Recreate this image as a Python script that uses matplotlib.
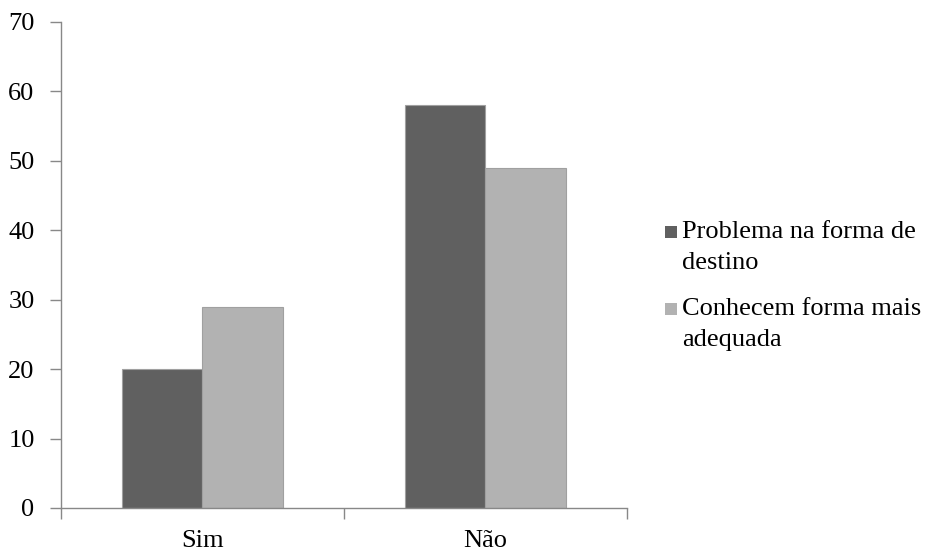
import numpy as np
import matplotlib.pyplot as plt
from matplotlib.patches import Rectangle

categories = ['Sim', 'Não']
problema = [20, 58]
conhecem = [29, 49]
series_labels = ['Problema na forma de\ndestino', 'Conhecem forma mais\nadequada']
series_colors = ['#606060', '#b2b2b2']

plt.rcParams['font.family'] = 'Liberation Serif'

W, H = 928, 552
fig = plt.figure(figsize=(W / 100, H / 100), dpi=100)
ax = fig.add_axes([61 / W, 44 / H, 566 / W, 486 / H])

x = np.arange(len(categories))
w = 0.285
ax.bar(x - w / 2, problema, w, color=series_colors[0], edgecolor='#a0a0a0', linewidth=0.8)
ax.bar(x + w / 2, conhecem, w, color=series_colors[1], edgecolor='#a0a0a0', linewidth=0.8)

ax.set_xlim(-0.5, 1.5)
ax.set_ylim(0, 70)
ax.set_yticks(range(0, 71, 10))
ax.set_xticks(x)
ax.set_xticklabels(categories)
ax.set_xticks([-0.5, 0.5, 1.5], minor=True)
ax.tick_params(axis='x', which='major', length=0, pad=16, labelsize=19)
ax.tick_params(axis='x', which='minor', length=8, color='#888888', width=1)
ax.tick_params(axis='y', length=8, color='#888888', width=1, pad=11, labelsize=19)

for side in ['top', 'right']:
    ax.spines[side].set_visible(False)
for side in ['left', 'bottom']:
    ax.spines[side].set_color('#888888')
    ax.spines[side].set_linewidth(1)

# legend drawn by hand: square beside the first line of each wrapped label
entry_top = [232, 309]
line_gap = 31
for lab, col, y0 in zip(series_labels, series_colors, entry_top):
    fig.patches.append(Rectangle((665 / W, 1 - (y0 + 6) / H), 12 / W, 12 / H,
                                 transform=fig.transFigure, facecolor=col,
                                 edgecolor='none'))
    for k, line in enumerate(lab.split('\n')):
        fig.text(682 / W, 1 - (y0 + k * line_gap) / H, line, fontsize=19,
                 va='center', ha='left')

fig.savefig('out.png', dpi=100)
